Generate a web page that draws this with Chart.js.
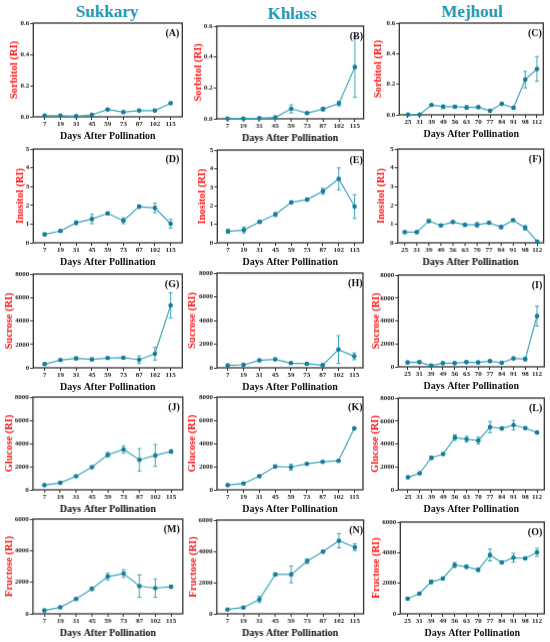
<!DOCTYPE html>
<html><head><meta charset="utf-8">
<script src="https://cdn.jsdelivr.net/npm/chart.js@4.4.1/dist/chart.umd.min.js"></script>
<style>
html,body{margin:0;padding:0;background:#fff;width:550px;height:642px;overflow:hidden;position:relative;}
.panel{position:absolute;}
.coltitle{position:absolute;font-family:"Liberation Serif",serif;font-weight:bold;font-size:17px;line-height:17px;color:#2199b7;transform:translateX(-50%);white-space:nowrap;}
</style></head><body>
<div class="coltitle" style="left:107px;top:2.5px">Sukkary</div>
<div class="coltitle" style="left:292px;top:5.1px">Khlass</div>
<div class="coltitle" style="left:472px;top:3.1px">Mejhoul</div>
<script>
// ---- categories ----
const daysSK = ['7','19','31','45','59','73','87','102','115'];
const daysMJ = ['25','31','39','49','56','63','70','77','84','91','98','112'];

// ---- series values (RI) and error bars ----
const sorbitolSukkary = [0.008,0.008,0.004,0.013,0.047,0.030,0.040,0.040,0.087];
const sorbitolSukkaryErr = [0.003,0.003,0.002,0.003,0.005,0.004,0.004,0.004,0.004];
const sorbitolKhlass = [0.002,0.002,0.004,0.009,0.065,0.037,0.063,0.099,0.335];
const sorbitolKhlassErr = [0.002,0.002,0.003,0.004,0.026,0.006,0.012,0.015,0.196];
const sorbitolMejhoul = [0.002,0.002,0.064,0.053,0.053,0.048,0.050,0.026,0.072,0.046,0.230,0.300];
const sorbitolMejhoulErr = [0.002,0.002,0.005,0.012,0.010,0.012,0.006,0.005,0.005,0.005,0.054,0.081];

const inositolSukkary = [0.45,0.63,1.07,1.27,1.57,1.18,1.93,1.86,1.02];
const inositolSukkaryErr = [0.05,0.06,0.10,0.25,0.06,0.16,0.08,0.25,0.23];
const inositolKhlass = [0.62,0.69,1.13,1.53,2.18,2.33,2.78,3.45,1.96];
const inositolKhlassErr = [0.10,0.16,0.06,0.10,0.06,0.06,0.16,0.59,0.64];
const inositolMejhoul = [0.57,0.57,1.16,0.93,1.11,0.96,0.96,1.07,0.84,1.21,0.80,0.07];
const inositolMejhoulErr = [0.05,0.05,0.06,0.06,0.06,0.08,0.12,0.06,0.08,0.06,0.12,0.03];

const sucroseSukkary = [317,662,806,720,835,863,690,1209,5324];
const sucroseSukkaryErr = [80,80,100,90,80,80,330,547,1079];
const sucroseKhlass = [200,257,629,714,400,343,229,1543,971];
const sucroseKhlassErr = [80,80,80,60,60,60,60,1171,286];
const sucroseMejhoul = [381,410,100,322,322,410,381,498,352,733,674,4425];
const sucroseMejhoulErr = [60,60,40,60,50,70,70,60,60,60,150,865];

const glucoseSukkary = [403,604,1180,1957,3022,3482,2590,2964,3309];
const glucoseSukkaryErr = [60,70,80,100,200,317,964,950,150];
const glucoseKhlass = [403,547,1180,2014,1957,2245,2417,2504,5295];
const glucoseKhlassErr = [60,60,80,70,250,80,60,60,60];
const glucoseMejhoul = [1088,1441,2794,3118,4559,4412,4294,5471,5353,5647,5382,5000];
const glucoseMejhoulErr = [80,80,150,80,250,250,300,485,80,412,60,60];

const fructoseSukkary = [214,407,943,1586,2357,2550,1757,1629,1714];
const fructoseSukkaryErr = [40,50,60,100,214,246,707,579,60];
const fructoseKhlass = [279,407,921,2522,2522,3370,3978,4680,4261];
const fructoseKhlassErr = [40,60,200,60,533,150,60,457,217];
const fructoseMejhoul = [989,1319,2088,2308,3187,3077,2879,3846,3363,3670,3626,4022];
const fructoseMejhoulErr = [60,60,120,60,170,100,100,385,100,290,60,260];

// ---- axis labels ----
const xAxisTitle = 'Days After Pollination';
const yTitles = ['Sorbitol (RI)','Inositol (RI)','Sucrose (RI)','Glucose (RI)','Fructose (RI)'];
const yMaxes = [0.6,5,8000,8000,6000];
const ySteps = [0.2,1,2000,2000,2000];
const panelLetters = ['(A)','(B)','(C)','(D)','(E)','(F)','(G)','(H)','(I)','(J)','(K)','(L)','(M)','(N)','(O)'];

const FONT = '"Liberation Serif", "Times New Roman", serif';
const LINE = '#3aa6bf';
const MARK = '#167e95';
const RED = '#ff1414';

const boxPlugin = {
  id:'box',
  beforeDatasetsDraw(chart, args, opts){
    const {ctx, chartArea:a} = chart;
    ctx.save();
    ctx.strokeStyle = '#333';
    ctx.lineWidth = 1.3;
    ctx.strokeRect(a.left, a.top, a.right-a.left, a.bottom-a.top);
    // error bars
    const ds = chart.data.datasets[0];
    const xs = chart.scales.x, ys = chart.scales.y;
    ctx.strokeStyle = LINE;
    ctx.lineWidth = 1;
    ds.data.forEach((pt,i)=>{
      const e = ds.errors[i];
      if(!e) return;
      const x = xs.getPixelForValue(pt.x);
      const y1 = ys.getPixelForValue(Math.max(pt.y-e, 0));
      const y2 = ys.getPixelForValue(pt.y+e);
      ctx.beginPath();
      ctx.moveTo(x,y1); ctx.lineTo(x,y2);
      ctx.moveTo(x-2,y1); ctx.lineTo(x+2,y1);
      ctx.moveTo(x-2,y2); ctx.lineTo(x+2,y2);
      ctx.stroke();
    });
    ctx.restore();
  },
  afterDraw(chart, args, opts){
    const {ctx, chartArea:a} = chart;
    ctx.save();
    ctx.font = 'bold 10px ' + FONT;
    ctx.fillStyle = '#111';
    ctx.textAlign = 'right';
    ctx.textBaseline = 'alphabetic';
    ctx.fillText(opts.letter, a.right - opts.inset, a.top + 13);
    ctx.restore();
  }
};

const tickFont = {family:FONT, size:7, weight:'bold'};

function makePanel(p){
  const tPad = 8, rPad = 4, xH = 25.5;
  const cl = p.titleX - 6.3;
  const yW = p.L - cl;
  const div = document.createElement('div');
  div.className = 'panel';
  div.style.left = cl + 'px';
  div.style.top = (p.T - tPad) + 'px';
  div.style.width = (p.R - cl + rPad) + 'px';
  div.style.height = (p.B - p.T + tPad + xH) + 'px';
  const cv = document.createElement('canvas');
  div.appendChild(cv);
  document.body.appendChild(div);
  const pts = p.values.map((v,i)=>({x:i, y:v}));
  new Chart(cv, {
    type:'line',
    data:{datasets:[{data:pts, errors:p.errors, borderColor:LINE, borderWidth:1.2,
      pointRadius:2.3, pointBackgroundColor:MARK, pointBorderColor:MARK, pointBorderWidth:0,
      tension:0, clip:false}]},
    options:{
      responsive:true, maintainAspectRatio:false, animation:false, devicePixelRatio:1,
      layout:{padding:{top:tPad, right:rPad, left:0, bottom:0}},
      plugins:{legend:{display:false}, tooltip:{enabled:false}, box:{letter:p.letter, inset:p.inset}},
      scales:{
        x:{type:'linear', bounds:'data', min:p.xmin, max:p.xmax,
          afterBuildTicks:s=>{ s.ticks = p.days.map((d,i)=>({value:i})); },
          afterFit:s=>{ s.height = xH; },
          ticks:{autoSkip:false, maxRotation:0, minRotation:0, padding:0, font:tickFont, color:'#222',
            callback:(v)=>p.days[v]},
          grid:{display:true, drawOnChartArea:false, drawTicks:true, tickLength:3, color:'#333', lineWidth:1},
          border:{display:false},
          title:{display:true, text:xAxisTitle, font:{family:FONT, size:10, weight:'bold'}, color:'#111', padding:0}
        },
        y:{min:0, max:p.ymax,
          afterFit:s=>{ s.width = yW; },
          ticks:{stepSize:p.step, padding:1, font:tickFont, color:'#222',
            callback:(v)=> p.dec ? Number(v).toFixed(1) : String(Math.round(v))},
          grid:{display:true, drawOnChartArea:false, drawTicks:true, tickLength:3, color:'#333', lineWidth:1},
          border:{display:false},
          title:{display:true, text:p.ylabel, font:{family:FONT, size:10.5, weight:'bold'}, color:RED, padding:0}
        }
      }
    },
    plugins:[boxPlugin]
  });
}

const geom = [
  // row 1
  {L:33,R:182,T:23,B:116,titleX:14,xmin:-0.72,xmax:8.74,inset:3},
  {L:217,R:363,T:26,B:118,titleX:198.7,xmin:-0.676,xmax:8.55,inset:0.5},
  {L:399,R:543,T:23,B:114,titleX:378,xmin:-0.74,xmax:11.54,inset:1.5},
  // row 2
  {L:33,R:182,T:149,B:242,titleX:20,xmin:-0.72,xmax:8.74,inset:3},
  {L:217,R:363,T:150,B:242,titleX:202,xmin:-0.676,xmax:8.55,inset:0.5},
  {L:398,R:543,T:149,B:242,titleX:381.7,xmin:-0.58,xmax:11.53,inset:2},
  // row 3
  {L:33,R:182,T:274,B:367,titleX:9,xmin:-0.72,xmax:8.74,inset:3},
  {L:217,R:363,T:273,B:367,titleX:192.3,xmin:-0.676,xmax:8.55,inset:0.5},
  {L:398,R:544,T:275,B:366,titleX:376,xmin:-0.79,xmax:11.62,inset:2},
  // row 4
  {L:33,R:182,T:397,B:489,titleX:9.5,xmin:-0.72,xmax:8.74,inset:3},
  {L:217,R:363,T:397,B:489,titleX:192.3,xmin:-0.676,xmax:8.55,inset:0.5},
  {L:398,R:544,T:398,B:489,titleX:375,xmin:-0.82,xmax:11.62,inset:2},
  // row 5
  {L:33,R:182,T:519,B:613,titleX:9.5,xmin:-0.72,xmax:8.74,inset:3},
  {L:217,R:363,T:520,B:613,titleX:193.7,xmin:-0.676,xmax:8.55,inset:0.5},
  {L:400,R:544,T:522,B:613,titleX:376,xmin:-0.62,xmax:11.62,inset:2}
];

const seriesGrid = [
  [[sorbitolSukkary,sorbitolSukkaryErr],[sorbitolKhlass,sorbitolKhlassErr],[sorbitolMejhoul,sorbitolMejhoulErr]],
  [[inositolSukkary,inositolSukkaryErr],[inositolKhlass,inositolKhlassErr],[inositolMejhoul,inositolMejhoulErr]],
  [[sucroseSukkary,sucroseSukkaryErr],[sucroseKhlass,sucroseKhlassErr],[sucroseMejhoul,sucroseMejhoulErr]],
  [[glucoseSukkary,glucoseSukkaryErr],[glucoseKhlass,glucoseKhlassErr],[glucoseMejhoul,glucoseMejhoulErr]],
  [[fructoseSukkary,fructoseSukkaryErr],[fructoseKhlass,fructoseKhlassErr],[fructoseMejhoul,fructoseMejhoulErr]]
];

for(let r=0;r<5;r++){
  for(let c=0;c<3;c++){
    const k = r*3+c;
    const g = geom[k];
    makePanel(Object.assign({}, g, {
      days: c===2 ? daysMJ : daysSK,
      values: seriesGrid[r][c][0],
      errors: seriesGrid[r][c][1],
      ylabel: yTitles[r],
      ymax: yMaxes[r],
      step: ySteps[r],
      dec: r===0,
      letter: panelLetters[k]
    }));
  }
}
</script>
</body></html>
